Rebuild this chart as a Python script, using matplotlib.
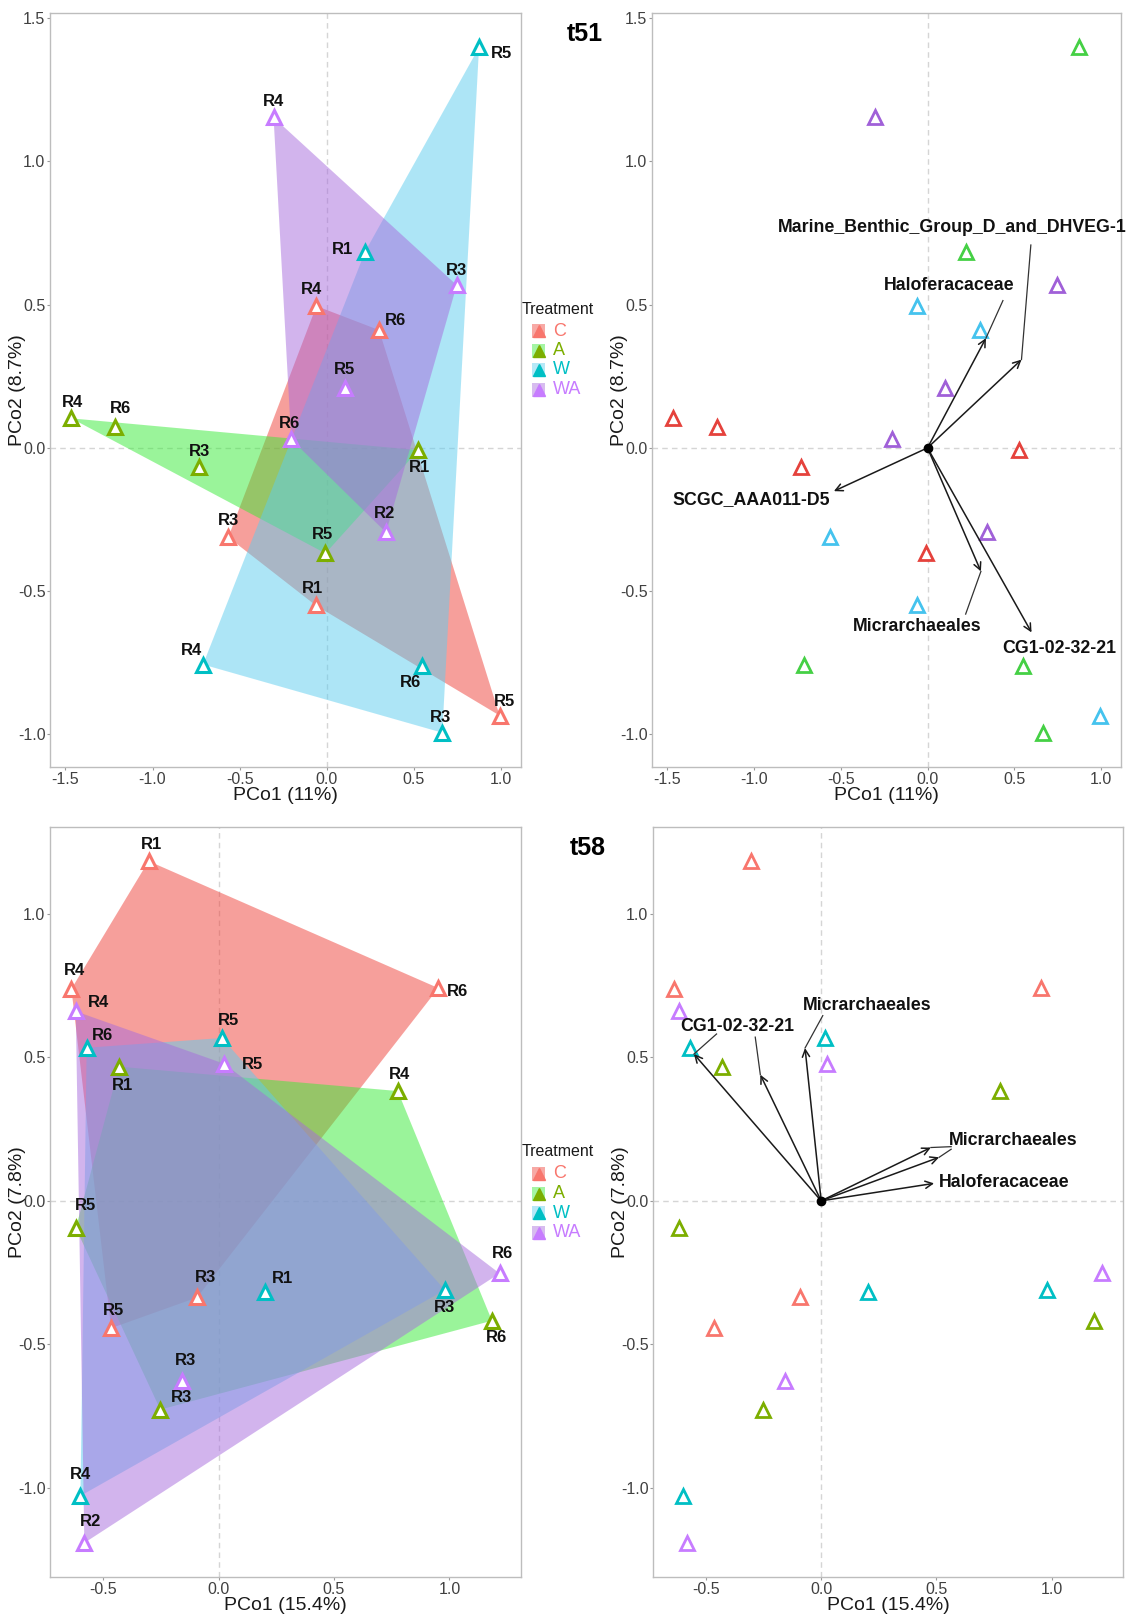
import numpy as np
import matplotlib.pyplot as plt
from matplotlib.patches import Polygon, Rectangle
from matplotlib.lines import Line2D

plt.rcParams['font.family'] = ['Liberation Sans', 'DejaVu Sans']
plt.rcParams['axes.unicode_minus'] = False

groups = ['C', 'A', 'W', 'WA']

# t51 ordination scores
t51_group = ['C'] * 5 + ['A'] * 5 + ['W'] * 5 + ['WA'] * 5
t51_rep = ['R4', 'R6', 'R3', 'R1', 'R5',
           'R4', 'R6', 'R3', 'R1', 'R5',
           'R5', 'R1', 'R4', 'R6', 'R3',
           'R4', 'R3', 'R5', 'R6', 'R2']
t51_x = [-0.059, 0.301, -0.565, -0.062, 0.993,
         -1.466, -1.213, -0.732, 0.527, -0.007,
         0.875, 0.220, -0.710, 0.549, 0.664,
         -0.305, 0.747, 0.103, -0.204, 0.341]
t51_y = [0.495, 0.411, -0.312, -0.550, -0.934,
         0.103, 0.073, -0.068, -0.008, -0.368,
         1.398, 0.684, -0.756, -0.762, -0.994,
         1.153, 0.568, 0.210, 0.030, -0.295]

# t58 ordination scores
t58_group = ['C'] * 5 + ['A'] * 5 + ['W'] * 5 + ['WA'] * 5
t58_rep = ['R1', 'R4', 'R6', 'R3', 'R5',
           'R1', 'R4', 'R5', 'R6', 'R3',
           'R5', 'R6', 'R1', 'R3', 'R4',
           'R4', 'R5', 'R6', 'R3', 'R2']
t58_x = [-0.303, -0.637, 0.952, -0.093, -0.465,
         -0.430, 0.776, -0.618, 1.184, -0.252,
         0.015, -0.571, 0.202, 0.980, -0.598,
         -0.618, 0.025, 1.217, -0.157, -0.581]
t58_y = [1.185, 0.739, 0.742, -0.337, -0.444,
         0.468, 0.383, -0.095, -0.418, -0.728,
         0.568, 0.534, -0.317, -0.311, -1.029,
         0.661, 0.478, -0.253, -0.627, -1.193]

# taxa vectors (biplot)
t51_taxa = ['Haloferacaceae', 'Marine_Benthic_Group_D_and_DHVEG-1', 'SCGC_AAA011-D5',
            'Micrarchaeales', 'CG1-02-32-21']
t51_vx = [0.337, 0.542, -0.540, 0.308, 0.600]
t51_vy = [0.383, 0.308, -0.151, -0.431, -0.644]

t58_taxa = ['CG1-02-32-21', 'CG1-02-32-21', 'Micrarchaeales', 'Micrarchaeales',
            'Micrarchaeales', 'Haloferacaceae']
t58_vx = [-0.552, -0.264, -0.070, 0.476, 0.512, 0.490]
t58_vy = [0.512, 0.440, 0.533, 0.186, 0.152, 0.061]

# label layout (pixels offset from the point: right, up)
t51_lab_dx = [-5, 16, 0, -3, 5,  1, 5, 0, 1, -3,  22, -22, -12, -12, -2,  0, 0, 0, -2, -2]
t51_lab_dy = [17, 10, 17, 17, 14,  16, 18, 16, -17, 19,  -6, 2, 14, -16, 15,  16, 15, 18, 16, 19]
t58_lab_dx = [3, 3, 19, 8, 2,  3, 2, 10, 5, 21,  7, 16, 17, 0, 0,  23, 28, 3, 3, 6]
t58_lab_dy = [17, 18, -3, 20, 18,  -19, 17, 23, -17, 12,  17, 12, 13, -17, 21,  9, -1, 20, 20, 21]

# biplot label layout: text centre, connector start (None = no connector), vector index
t51_txt = [('Marine_Benthic_Group_D_and_DHVEG-1', 0.142, 0.768, (0.596, 0.708), 1),
           ('Haloferacaceae', 0.123, 0.566, (0.435, 0.514), 0),
           ('SCGC_AAA011-D5', -1.014, -0.182, None, 2),
           ('Micrarchaeales', -0.062, -0.624, (0.220, -0.580), 3),
           ('CG1-02-32-21', 0.762, -0.701, None, 4)]
t58_txt = [('CG1-02-32-21', -0.362, 0.609, (-0.454, 0.582), 0),
           (None, 0, 0, (-0.286, 0.571), 1),
           ('Micrarchaeales', 0.198, 0.681, (0.007, 0.646), 2),
           ('Micrarchaeales', 0.835, 0.212, (0.564, 0.189), 3),
           (None, 0, 0, (0.564, 0.180), 4),
           ('Haloferacaceae', 0.794, 0.065, None, 5)]

pt_col = {'C': '#F8766D', 'A': '#7CAE00', 'W': '#00BFC4', 'WA': '#C77CFF'}
hull_col = {'C': '#EF4139', 'A': '#37EB37', 'W': '#5DCDEF', 'WA': '#A76BDD'}
t51_bi_col = {'C': '#45C3EE', 'A': '#E5423C', 'W': '#45D045', 'WA': '#A060D8'}


def convex_hull(pts):
    pts = sorted(set(pts))
    def cross(o, a, b):
        return (a[0] - o[0]) * (b[1] - o[1]) - (a[1] - o[1]) * (b[0] - o[0])
    lower, upper = [], []
    for p in pts:
        while len(lower) >= 2 and cross(lower[-2], lower[-1], p) <= 0:
            lower.pop()
        lower.append(p)
    for p in reversed(pts):
        while len(upper) >= 2 and cross(upper[-2], upper[-1], p) <= 0:
            upper.pop()
        upper.append(p)
    return lower[:-1] + upper[:-1]


def expand(v, f=0.05):
    lo, hi = min(v), max(v)
    d = (hi - lo) * f
    return lo - d, hi + d


def base_axes(ax, xs, ys, xticks, yticks, xlab, ylab):
    ax.set_xlim(*expand(xs))
    ax.set_ylim(*expand(ys))
    ax.set_xticks(xticks)
    ax.set_yticks(yticks)
    ax.set_xticklabels(['%.1f' % t for t in xticks])
    ax.set_yticklabels(['%.1f' % t for t in yticks])
    ax.axvline(0, color='#D5D5D5', lw=1, ls=(0, (4, 3)), zorder=0)
    ax.axhline(0, color='#D5D5D5', lw=1, ls=(0, (4, 3)), zorder=0)
    for s in ax.spines.values():
        s.set_color('#BDBDBD')
        s.set_linewidth(1.0)
    ax.tick_params(length=2.5, width=0.8, color='#9A9A9A', labelcolor='#404040',
                   labelsize=11.5, pad=0.8)
    ax.set_xlabel(xlab, fontsize=14, color='#1A1A1A')
    ax.set_ylabel(ylab, fontsize=14, color='#1A1A1A')
    ax.xaxis.set_label_coords(0.5, -0.027)
    ax.yaxis.set_label_coords(-0.052, 0.5)


def hull_panel(ax, grp, rep, xs, ys, dx, dy):
    for g in groups:
        pts = [(x, y) for x, y, gg in zip(xs, ys, grp) if gg == g]
        ax.add_patch(Polygon(convex_hull(pts), closed=True, facecolor=hull_col[g],
                             alpha=0.5, edgecolor='none', zorder=1))
    for g in groups:
        gx = [x for x, gg in zip(xs, grp) if gg == g]
        gy = [y for y, gg in zip(ys, grp) if gg == g]
        ax.plot(gx, gy, ls='none', marker='^', ms=10, mfc='white', mec=pt_col[g],
                mew=2.2, zorder=3)
    for x, y, r, ox, oy in zip(xs, ys, rep, dx, dy):
        ax.annotate(r, (x, y), xytext=(ox, oy), textcoords='offset pixels',
                    ha='center', va='center', fontsize=12, fontweight='bold',
                    color='#111111', zorder=4)


def biplot_panel(ax, grp, xs, ys, cols, vx, vy, txt):
    for g in groups:
        gx = [x for x, gg in zip(xs, grp) if gg == g]
        gy = [y for y, gg in zip(ys, grp) if gg == g]
        ax.plot(gx, gy, ls='none', marker='^', ms=10, mfc='white', mec=cols[g],
                mew=2.0, zorder=3)
    for x, y in zip(vx, vy):
        ax.annotate('', xy=(x, y), xytext=(0, 0),
                    arrowprops=dict(arrowstyle='->', lw=1.1, color='#1A1A1A',
                                    mutation_scale=13, shrinkA=0, shrinkB=0), zorder=4)
    ax.plot([0], [0], marker='o', ms=6, color='black', zorder=5)
    for name, tx, ty, start, k in txt:
        if name is not None:
            ax.text(tx, ty, name, ha='center', va='center', fontsize=12.8,
                    fontweight='bold', color='#111111', zorder=5)
        if start is not None:
            ax.plot([start[0], vx[k]], [start[1], vy[k]], color='#333333', lw=0.9, zorder=4)


W, H = 1131, 1616
fig = plt.figure(figsize=(W / 100, H / 100), dpi=100)


def px_axes(l, t, r, b):
    return fig.add_axes([l / W, 1 - b / H, (r - l) / W, (b - t) / H])


ax1 = px_axes(50, 13, 521, 767)
ax2 = px_axes(652, 13, 1121, 767)
ax3 = px_axes(50, 827, 521, 1577)
ax4 = px_axes(653, 827, 1123, 1577)

t51_xt = [-1.5, -1.0, -0.5, 0.0, 0.5, 1.0]
t51_yt = [-1.0, -0.5, 0.0, 0.5, 1.0, 1.5]
t58_xt = [-0.5, 0.0, 0.5, 1.0]
t58_yt = [-1.0, -0.5, 0.0, 0.5, 1.0]

for ax in (ax1, ax2):
    base_axes(ax, t51_x, t51_y, t51_xt, t51_yt, 'PCo1 (11%)', 'PCo2 (8.7%)')
for ax in (ax3, ax4):
    base_axes(ax, t58_x, t58_y, t58_xt, t58_yt, 'PCo1 (15.4%)', 'PCo2 (7.8%)')

hull_panel(ax1, t51_group, t51_rep, t51_x, t51_y, t51_lab_dx, t51_lab_dy)
hull_panel(ax3, t58_group, t58_rep, t58_x, t58_y, t58_lab_dx, t58_lab_dy)
biplot_panel(ax2, t51_group, t51_x, t51_y, t51_bi_col, t51_vx, t51_vy, t51_txt)
biplot_panel(ax4, t58_group, t58_x, t58_y, pt_col, t58_vx, t58_vy, t58_txt)

# titles
fig.text(585 / W, 1 - 34 / H, 't51', ha='center', va='center', fontsize=18, fontweight='bold')
fig.text(588 / W, 1 - 848 / H, 't58', ha='center', va='center', fontsize=18, fontweight='bold')


# legends
def legend(top):
    fig.text(522 / W, 1 - top / H, 'Treatment', ha='left', va='center', fontsize=11.5,
             color='#1A1A1A')
    for i, g in enumerate(groups):
        yc = top + 22 + i * 19.5
        fig.add_artist(Rectangle(((532) / W, 1 - (yc + 7) / H), 13 / W, 14 / H,
                                 facecolor=hull_col[g], alpha=0.45, edgecolor='none',
                                 transform=fig.transFigure))
        fig.add_artist(Line2D([538.5 / W], [1 - yc / H], marker='^', ms=9, color=pt_col[g],
                              transform=fig.transFigure))
        fig.text(553 / W, 1 - yc / H, g, ha='left', va='center', fontsize=13, color=pt_col[g])


legend(309)
legend(1152)

fig.savefig('out.png', dpi=100)
